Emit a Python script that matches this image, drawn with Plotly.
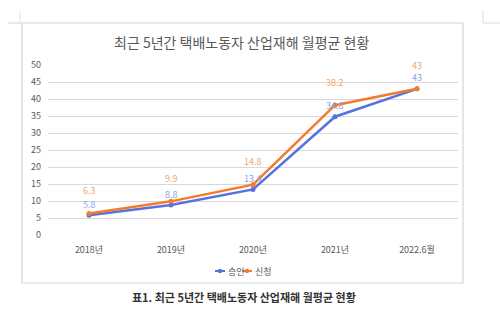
import plotly.graph_objects as go

categories = ["2018년", "2019년", "2020년", "2021년", "2022.6월"]
approved = [5.8, 8.8, 13.4, 34.8, 43]
applied = [6.3, 9.9, 14.8, 38.2, 43]
approved_labels = ["5.8", "8.8", "13.4", "34.8", "43"]
applied_labels = ["6.3", "9.9", "14.8", "38.2", "43"]
series_names = ["승인", "신청"]
y_ticks = list(range(0, 55, 5))

W, H = 500, 322
L, R, T, B = 48, 458, 65, 235

def px(x):
    return (x - L) / (R - L)

def py(y):
    return (B - y) / (B - T)

BLUE = "#5673DD"
ORANGE = "#F47B2C"
BLUE_T = "#8FA3E6"
ORANGE_T = "#F3A66A"
FONT = "Noto Sans CJK KR"

fig = go.Figure()
fig.add_trace(go.Scatter(x=categories, y=approved, name=series_names[0], mode="lines+markers",
                         line=dict(color=BLUE, width=2.5), marker=dict(size=5, color=BLUE)))
fig.add_trace(go.Scatter(x=categories, y=applied, name=series_names[1], mode="lines+markers",
                         line=dict(color=ORANGE, width=2.5), marker=dict(size=5, color=ORANGE)))

for c, v, t in zip(categories, approved, approved_labels):
    fig.add_annotation(x=c, y=v, text=t, showarrow=False, yshift=11, yanchor="middle",
                       font=dict(family=FONT, size=9, color=BLUE_T))
for c, v, t in zip(categories, applied, applied_labels):
    fig.add_annotation(x=c, y=v, text=t, showarrow=False, yshift=23, yanchor="middle",
                       font=dict(family=FONT, size=9, color=ORANGE_T))

fig.add_annotation(x=px(241), y=py(42), xref="paper", yref="paper", xanchor="center", yanchor="middle",
                   text="최근 5년간 택배노동자 산업재해 월평균 현황",
                   showarrow=False, font=dict(family=FONT, size=14, color="#595959"))
fig.add_annotation(x=px(244), y=py(297), xref="paper", yref="paper", xanchor="center", yanchor="middle",
                   text="<b>표1. 최근 5년간 택배노동자 산업재해 월평균 현황</b>",
                   showarrow=False, font=dict(family=FONT, size=11, color="#333333"))

# custom compact legend
legend_items = [(215, 225, 226, BLUE, series_names[0]), (242, 252, 253, ORANGE, series_names[1])]
shapes = []
for x0, x1, tx, col, name in legend_items:
    shapes.append(dict(type="line", xref="paper", yref="paper", x0=px(x0), x1=px(x1),
                       y0=py(271), y1=py(271), line=dict(color=col, width=2)))
    cx = (x0 + x1) / 2
    shapes.append(dict(type="circle", xref="paper", yref="paper", x0=px(cx - 2.2), x1=px(cx + 2.2),
                       y0=py(273.2), y1=py(268.8), fillcolor=col, line=dict(color=col, width=0)))
    fig.add_annotation(x=px(tx), y=py(271), xref="paper", yref="paper", xanchor="left", yanchor="middle",
                       text=name, showarrow=False, font=dict(family=FONT, size=9, color="#595959"))

line_c = "#D4D4D4"
shapes += [
    dict(type="rect", xref="paper", yref="paper", x0=px(22), x1=px(463), y0=py(23), y1=py(283),
         line=dict(color=line_c, width=1.2)),
    dict(type="line", xref="paper", yref="paper", x0=px(8), x1=px(22), y0=py(23), y1=py(23),
         line=dict(color=line_c, width=1)),
    dict(type="line", xref="paper", yref="paper", x0=px(20), x1=px(20), y0=py(10), y1=py(23),
         line=dict(color="#E6E6E6", width=1)),
    dict(type="line", xref="paper", yref="paper", x0=px(483), x1=px(483), y0=py(10), y1=py(23),
         line=dict(color="#DDDDDD", width=1)),
    dict(type="line", xref="paper", yref="paper", x0=px(483), x1=px(500), y0=py(23), y1=py(23),
         line=dict(color="#DDDDDD", width=1)),
]
fig.update_layout(shapes=shapes)

fig.update_layout(
    width=W, height=H,
    margin=dict(l=L, r=W - R, t=T, b=H - B),
    paper_bgcolor="white", plot_bgcolor="white",
    font=dict(family=FONT, size=9, color="#595959"),
    showlegend=False,
    xaxis=dict(type="category", range=[-0.5, 4.5], showgrid=False, showline=False, zeroline=False,
               ticks="", tickfont=dict(family=FONT, size=9, color="#595959"), ticklabelstandoff=8),
    yaxis=dict(range=[0, 50.01], tickvals=y_ticks, showgrid=True, gridcolor="#D9D9D9", gridwidth=1,
               zeroline=False, showline=False, ticks="",
               tickfont=dict(family=FONT, size=9, color="#595959"), ticklabelstandoff=6),
)

fig.write_html("out.html")
